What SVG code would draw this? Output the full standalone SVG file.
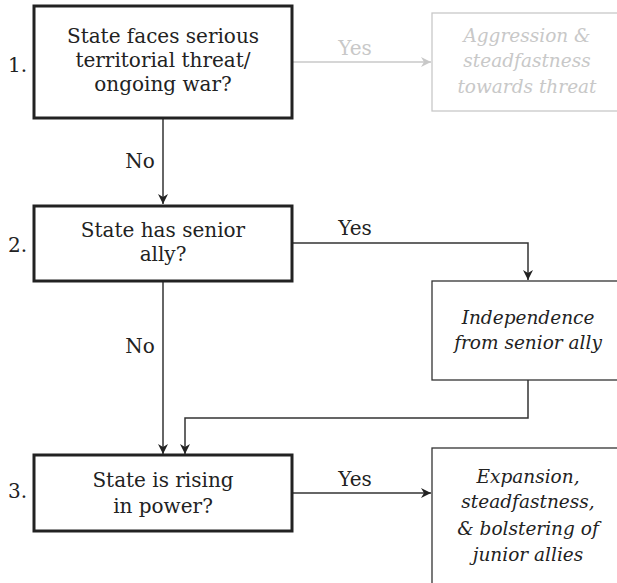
<svg xmlns="http://www.w3.org/2000/svg" width="617" height="583" viewBox="0 0 617 583">
<defs>
<style>
.q{fill:#fff;stroke:#222;stroke-width:3}
.o{fill:#fff;stroke:#333;stroke-width:1.3}
.og{fill:#fff;stroke:#c8c8c8;stroke-width:1.3}
.t{font-family:"DejaVu Serif","Liberation Serif",serif;font-size:20px;fill:#222;text-anchor:middle}
.n{font-family:"DejaVu Serif","Liberation Serif",serif;font-size:20px;fill:#222}
.i{font-family:"DejaVu Serif","Liberation Serif",serif;font-style:italic;font-size:18.5px;fill:#222;text-anchor:middle}
.ig{fill:#c8c8c8}
.c{fill:none;stroke:#333;stroke-width:1.5}
.cg{fill:none;stroke:#c8c8c8;stroke-width:1.5}
</style>
<marker id="a" viewBox="0 0 10 10" refX="10" refY="5" markerWidth="10" markerHeight="10" markerUnits="userSpaceOnUse" orient="auto"><path d="M0,0 L10,5 L0,10 L3,5 z" fill="#222"/></marker>
<marker id="ag" viewBox="0 0 10 10" refX="10" refY="5" markerWidth="10" markerHeight="10" markerUnits="userSpaceOnUse" orient="auto"><path d="M0,0 L10,5 L0,10 L3,5 z" fill="#c8c8c8"/></marker>
</defs>
<g id="connectors">
<path class="cg" d="M292,62 H431" marker-end="url(#ag)"/>
<text class="t" x="355" y="55" style="fill:#c8c8c8">Yes</text>
<path class="c" d="M163,119 V204" marker-end="url(#a)"/>
<text class="t" x="140" y="168">No</text>
<path class="c" d="M292,243 H528 V280" marker-end="url(#a)"/>
<text class="t" x="355" y="235">Yes</text>
<path class="c" d="M163,281 V454" marker-end="url(#a)"/>
<text class="t" x="140" y="353">No</text>
<path class="c" d="M528,380 V418 H185 V454" marker-end="url(#a)"/>
<path class="c" d="M292,493 H431" marker-end="url(#a)"/>
<text class="t" x="355" y="486">Yes</text>
</g>
<g id="q1">
<rect class="q" x="34" y="6" width="258" height="112"/>
<text class="n" x="8" y="72">1.</text>
<text class="t" x="163" y="43">State faces serious</text>
<text class="t" x="163" y="67">territorial threat/</text>
<text class="t" x="163" y="91">ongoing war?</text>
</g>
<g id="out1">
<rect class="og" x="432" y="13" width="190" height="98"/>
<text class="i ig" x="527" y="42">Aggression &amp;</text>
<text class="i ig" x="527" y="67">steadfastness</text>
<text class="i ig" x="527" y="93">towards threat</text>
</g>
<g id="q2">
<rect class="q" x="34" y="206" width="258" height="75"/>
<text class="n" x="8" y="252">2.</text>
<text class="t" x="163" y="237">State has senior</text>
<text class="t" x="163" y="261">ally?</text>
</g>
<g id="out2">
<rect class="o" x="432" y="281" width="190" height="99"/>
<text class="i" x="528" y="324">Independence</text>
<text class="i" x="528" y="349">from senior ally</text>
</g>
<g id="q3">
<rect class="q" x="34" y="455" width="258" height="76"/>
<text class="n" x="8" y="498">3.</text>
<text class="t" x="163" y="487">State is rising</text>
<text class="t" x="163" y="513">in power?</text>
</g>
<g id="out3">
<rect class="o" x="432" y="448" width="190" height="150"/>
<text class="i" x="528" y="483">Expansion,</text>
<text class="i" x="528" y="508">steadfastness,</text>
<text class="i" x="528" y="535">&amp; bolstering of</text>
<text class="i" x="528" y="561">junior allies</text>
</g>
</svg>
